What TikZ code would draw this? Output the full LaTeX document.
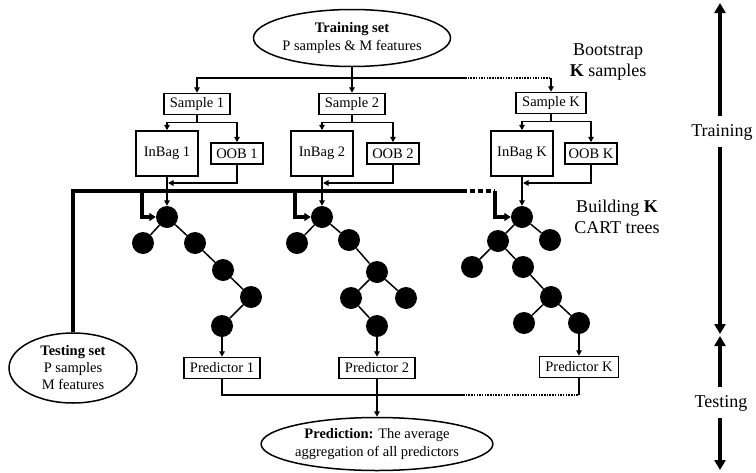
\documentclass[tikz,border=0pt]{standalone}
\usepackage{fontspec}
\setmainfont{Liberation Serif}
\usetikzlibrary{shapes.geometric,arrows.meta}
\begin{document}
\begin{tikzpicture}[x=1pt,y=-1pt,
  every node/.style={font=\fontsize{14.5}{18}\selectfont},
  box/.style={draw,line width=1.5pt,inner xsep=6pt,inner ysep=0pt,minimum height=21pt},
  bag/.style={draw,line width=1.5pt,minimum width=62pt,minimum height=45pt,inner sep=0pt},
  oob/.style={draw,line width=1.5pt,minimum width=52pt,minimum height=21pt,inner sep=0pt},
  ell/.style={draw,ellipse,line width=1.5pt,inner sep=0pt,align=center},
  leaf/.style={circle,fill=black,minimum size=22pt,inner sep=0pt},
  con/.style={line width=1.5pt},
  dotline/.style={line width=1.5pt,dash pattern=on 1.5pt off 1.2pt},
  arr/.style={con,-{Triangle[length=5.5pt,width=5.5pt]}},
  edge/.style={line width=1.5pt},
  heavy/.style={line width=3.2pt},
  heavydash/.style={line width=3.2pt,dash pattern=on 5pt off 3pt},
  harr/.style={heavy,-{Triangle[length=6.5pt,width=8pt]}},
  side/.style={font=\fontsize{18}{21}\selectfont,align=center},
  big/.style={line width=4pt,-{Triangle[length=10pt,width=11pt]}}
]
\useasboundingbox (0,0) rectangle (756,472);

% ellipses
\node[ell,minimum width=185pt,minimum height=57pt] (train) at (352,38) {\textbf{Training set}\\P samples \& M features};
\node[ell,minimum width=128pt,minimum height=70pt,font=\fontsize{14.5}{17}\selectfont] (test) at (73,368) {\textbf{Testing set}\\P samples\\M features};
\node[ell,minimum width=220pt,minimum height=53pt] (pred) at (377,444) {\textbf{Prediction:} The average\\aggregation of all predictors};

% samples
\node[box] (s1) at (197,104) {Sample 1};
\node[box] (s2) at (352,104) {Sample 2};
\node[box] (sK) at (551,103) {Sample K};

% bags
\node[bag] (ib1) at (167,153.5) {InBag 1};
\node[oob] (ob1) at (237,153.5) {OOB 1};
\node[bag] (ib2) at (322,153.5) {InBag 2};
\node[oob] (ob2) at (393,153.5) {OOB 2};
\node[bag] (ibK) at (522,153.5) {InBag K};
\node[oob] (obK) at (591,153.5) {OOB K};

% tree 1
\node[leaf] (r1) at (167,217) {};
\node[leaf] (l1) at (143,243) {};
\node[leaf] (c1) at (195,243) {};
\node[leaf] (d1) at (223,270) {};
\node[leaf] (e1) at (251,297) {};
\node[leaf] (f1) at (222,326) {};
\draw[edge] (r1) -- (l1) (r1) -- (c1) (c1) -- (d1) (d1) -- (e1) (e1) -- (f1);

% tree 2
\node[leaf] (r2) at (322,217) {};
\node[leaf] (l2) at (297,243) {};
\node[leaf] (c2) at (349,240) {};
\node[leaf] (d2) at (377,272) {};
\node[leaf] (e2) at (351,298) {};
\node[leaf] (g2) at (406,298) {};
\node[leaf] (f2) at (377,326) {};
\draw[edge] (r2) -- (l2) (r2) -- (c2) (c2) -- (d2) (d2) -- (e2) (d2) -- (g2) (e2) -- (f2);

% tree K
\node[leaf] (rK) at (522,217) {};
\node[leaf] (cK) at (550,240) {};
\node[leaf] (lK) at (498,241) {};
\node[leaf] (mK) at (472,267) {};
\node[leaf] (nK) at (523,267) {};
\node[leaf] (dK) at (551,297) {};
\node[leaf] (eK) at (524,323) {};
\node[leaf] (fK) at (579,323) {};
\draw[edge] (rK) -- (lK) (rK) -- (cK) (lK) -- (mK) (lK) -- (nK) (nK) -- (dK) (dK) -- (eK) (dK) -- (fK);

% predictors
\node[box] (p1) at (222,368) {Predictor 1};
\node[box] (p2) at (377,368) {Predictor 2};
\node[box] (pK) at (579,367) {Predictor K};

% side labels
\node[side] (boot) at (608,62) {Bootstrap\\\textbf{K} samples};
\node[side] (build) at (617,217) {Building \textbf{K}\\CART trees};
\node[side] (trn) at (722,132) {Training};
\node[side] (tst) at (721,403) {Testing};

% training set -> samples
\coordinate (sj) at (352,78);
\coordinate (sd) at (465,78);
\draw[con] (train.south) -- (sj);
\draw[arr] (sj) -| (s1.north);
\draw[arr] (sj) -- (s2.north);
\draw[con] (sj) -- (sd);
\draw[dotline] (sd) -- (sK.north |- sd);
\draw[arr] (sK.north |- sd) -- (sK.north);

% samples -> bags
\foreach \s/\i/\o in {s1/ib1/ob1,s2/ib2/ob2,sK/ibK/obK}{
  \draw[con] (\s.south) -- ++(0,7) coordinate (j\s);
  \draw[arr] (j\s) -| (\i.north);
  \draw[arr] (j\s) -| (\o.north);
}

% bags -> roots
\foreach \i/\o/\r in {ib1/ob1/r1,ib2/ob2/r2,ibK/obK/rK}{
  \draw[arr] (\i.south) -- (\r.north);
  \coordinate (h\o) at ([xshift=1pt]\i.south |- 0,183);
  \draw[arr] (\o.south) |- (h\o);
}

% testing set -> trees
\coordinate (ts) at (73,191);
\coordinate (td) at (462,191);
\coordinate (b1) at (142,191);
\coordinate (b2) at (295,191);
\coordinate (bK) at (495,191);
\draw[heavy] (test.north) -- (ts) -- (td);
\draw[heavydash] (td) -- (bK);
\draw[harr] (b1) |- (r1.west);
\draw[harr] (b2) |- (r2.west);
\draw[harr] (bK) |- (rK.west);

% trees -> predictors
\draw[arr] (f1) -- (p1.north);
\draw[arr] (f2) -- (p2.north);
\draw[arr] (fK) -- (pK.north);

% predictors -> prediction
\coordinate (pj) at (377,395);
\coordinate (pd) at (463,395);
\draw[con] (p1.south) |- (pj);
\draw[arr] (p2.south) -- (pred.north);
\draw[con] (pj) -- (pd);
\draw[dotline] (pd) -- (pK.south |- pd);
\draw[con] (pK.south |- pd) -- (pK.south);

% phase arrows
\coordinate (ta) at (720,116);
\coordinate (tb) at (720,3);
\coordinate (tc) at (720,147);
\coordinate (te) at (720,334);
\coordinate (tf) at (720,387);
\coordinate (tg) at (720,336);
\coordinate (th) at (720,418);
\coordinate (ti) at (720,470);
\draw[big] (ta) -- (tb);
\draw[big] (tc) -- (te);
\draw[big] (tf) -- (tg);
\draw[big] (th) -- (ti);
\end{tikzpicture}
\end{document}
